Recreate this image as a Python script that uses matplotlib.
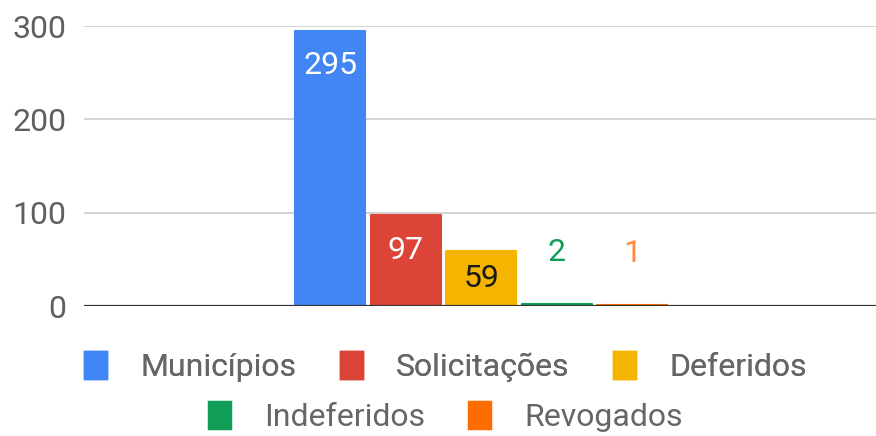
import matplotlib
matplotlib.use("Agg")
import matplotlib.pyplot as plt
from matplotlib.patches import Patch

plt.rcParams["font.family"] = ["Roboto", "DejaVu Sans"]

series = ["Municípios", "Solicitações", "Deferidos", "Indeferidos", "Revogados"]
values = [295, 97, 59, 2, 1]
colors = ["#4285F4", "#DB4437", "#F4B400", "#0F9D58", "#FF6D00"]
label_colors = ["white", "white", "#1a1a1a", "#0F9D58", "#FF8A3D"]
yticks = [0, 100, 200, 300]

W, H = 876, 436
FS = 23
fig = plt.figure(figsize=(W / 100, H / 100), dpi=100)
ax = fig.add_axes([84 / W, 130 / H, 792 / W, 280 / H])

pos = [i - (len(values) - 1) / 2 for i in range(len(values))]
bars = ax.bar(pos, values, width=0.93, color=colors, edgecolor=colors,
              linewidth=1.5, joinstyle="round", zorder=3)

ax.set_xlim(-5.26, 5.23)
ax.set_ylim(0, 300)
ax.set_yticks(yticks)
ax.set_yticklabels([str(t) for t in yticks])
ax.set_xticks([])
ax.tick_params(axis="y", length=0, pad=12.5, labelsize=FS, labelcolor="#5f5f5f")
for s in ax.spines.values():
    s.set_visible(False)
for t in yticks[1:]:
    ax.axhline(t, color="#cccccc", lw=1.2, zorder=1)
ax.axhline(0, color="#333333", lw=1.6, zorder=4)

# value labels: inside near top for tall bars, centred for short, above for tiny
px_per_unit = 280 / 300
for b, v, c in zip(bars, values, label_colors):
    x = b.get_x() + b.get_width() / 2
    hpx = v * px_per_unit
    if hpx > 80:
        ax.annotate(str(v), (x, v), xytext=(0, -25), textcoords="offset points",
                    ha="center", va="center", fontsize=FS, color=c, zorder=5)
    elif hpx > 30:
        ax.text(x, v / 2, str(v), ha="center", va="center", fontsize=FS, color=c, zorder=5)
    else:
        ax.annotate(str(v), (x, v), xytext=(0, 37), textcoords="offset points",
                    ha="center", va="center", fontsize=FS, color=c, zorder=5)

handles = [Patch(facecolor=c, edgecolor=c, linewidth=2.5, joinstyle="round", label=s)
           for s, c in zip(series, colors)]
common = dict(loc="center", frameon=False, fontsize=FS, labelcolor="#666666",
              handlelength=0.66, handleheight=0.9, handletextpad=1.08,
              columnspacing=1.37, borderpad=0, borderaxespad=0)
leg1 = fig.legend(handles=handles[:3], ncol=3,
                  bbox_to_anchor=(446 / W, 1 - 367 / H), **common)
fig.add_artist(leg1)
fig.legend(handles=handles[3:], ncol=2,
           bbox_to_anchor=(446 / W, 1 - 417 / H), **common)

fig.savefig("out.png", dpi=100)
